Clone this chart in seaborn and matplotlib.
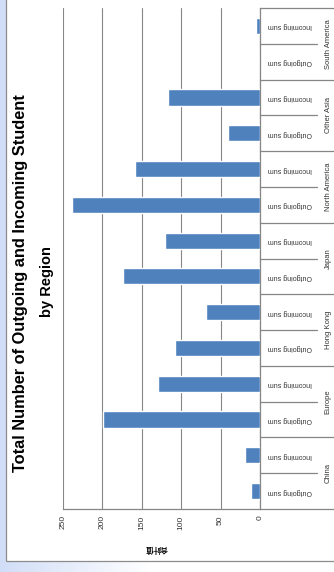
import numpy as np
import pandas as pd
import matplotlib
matplotlib.use("Agg")
import matplotlib.pyplot as plt
import matplotlib.patches as mpatches
import matplotlib.transforms as mtransforms
import seaborn as sns

# Student exchange counts by region
regions = ["China", "Europe", "Hong Kong", "Japan", "North America", "Other Asia", "South America"]
outgoing = [12, 199, 108, 174, 238, 40, 0]
incoming = [19, 130, 68, 120, 158, 117, 5]
series_labels = ["Outgoing sum", "Incoming sum"]
value_ticks = [0, 50, 100, 150, 200, 250]
title_lines = ["Total Number of Outgoing and Incoming Student", "by Region"]
value_axis_title = "合計值"

rows = []
for r, o, i in zip(regions, outgoing, incoming):
    rows.append({"key": f"{r}|{series_labels[0]}", "region": r, "series": series_labels[0], "value": o})
    rows.append({"key": f"{r}|{series_labels[1]}", "region": r, "series": series_labels[1], "value": i})
df = pd.DataFrame(rows)
# first category sits at the top, so list them from the last region down
order = list(df["key"])[::-1]
lookup = df.set_index("key")

sns.set_style("white")
plt.rcParams["font.family"] = ["Liberation Sans", "Noto Sans CJK TC", "DejaVu Sans"]

W, H = 334, 572
fig = plt.figure(figsize=(W / 100, H / 100), dpi=100)

# backdrop with a soft blue wash and the white chart card
bg = fig.add_axes([0, 0, 1, 1], zorder=-5)
grad = np.linspace(0, 1, 400)
fade = np.clip(grad / 0.45, 0, 1)
img = np.zeros((2, 400, 3))
for c, base in enumerate((0.82, 0.87, 0.97)):
    img[:, :, c] = base + (1 - base) * fade
bg.imshow(img, extent=[0, 1, 0, 1], aspect="auto", origin="lower")
bg.add_patch(mpatches.Rectangle((6 / W, 11 / H), 2, 2, facecolor="white",
                                edgecolor="#8c8c8c", linewidth=0.9))
bg.set_xlim(0, 1)
bg.set_ylim(0, 1)
bg.axis("off")

ax = fig.add_axes([63 / W, 63 / H, 197 / W, 501 / H])
ax.set_facecolor("none")
sns.barplot(data=df, y="key", x="value", order=order, orient="h",
            color="#4F81BD", saturation=1, width=0.45, ax=ax, zorder=3)
ax.set_xlim(250, 0)
ax.set_ylim(len(order) - 0.5, -0.5)
ax.set_xticks(value_ticks)
ax.set_xticklabels([str(v) for v in value_ticks], rotation=90, fontsize=6, color="#333333")
ax.tick_params(axis="x", direction="out", length=3, width=0.7, color="#868686", pad=1.5)
ax.set_yticks([])
ax.set_xlabel("")
ax.set_ylabel("")
ax.grid(axis="x", color="#868686", linewidth=0.8, zorder=0)
ax.grid(axis="y", visible=False)
for side in ("top", "left"):
    ax.spines[side].set_visible(False)
for side in ("bottom", "right"):
    ax.spines[side].set_color("#868686")
    ax.spines[side].set_linewidth(0.9)

# category labels and group separators to the right of the plot
trans = mtransforms.blended_transform_factory(ax.transAxes, ax.transData)
x_short = (317 - 63) / 197
x_long = (340 - 63) / 197
for idx, key in enumerate(order):
    row = lookup.loc[key]
    ax.text((290 - 63) / 197, idx, row["series"], transform=trans, rotation=180,
            ha="center", va="center", fontsize=5, color="#333333", clip_on=False)
ax.plot([1, x_long], [-0.5, -0.5], transform=trans, color="#868686", lw=0.9, clip_on=False)
for idx in range(len(order)):
    boundary = idx + 0.5
    last = idx == len(order) - 1
    same = (not last) and lookup.loc[order[idx], "region"] == lookup.loc[order[idx + 1], "region"]
    x_end = x_short if same else x_long
    ax.plot([1, x_end], [boundary, boundary], transform=trans, color="#868686",
            lw=0.9, clip_on=False)
for r in regions:
    pos = [i for i, k in enumerate(order) if lookup.loc[k, "region"] == r]
    ax.text((328 - 63) / 197, np.mean(pos), r, transform=trans, rotation=90,
            ha="center", va="center", fontsize=5.5, color="#333333", clip_on=False)

# value axis title
fig.text(156 / W, 1 - 549 / H, value_axis_title, rotation=180, ha="center", va="center",
         fontsize=5.5, fontweight="bold", color="black",
         family=["Noto Sans CJK TC", "DejaVu Sans"])

# chart title, two rotated lines
fig.text(21 / W, 1 - 283 / H, title_lines[0], rotation=90, ha="center", va="center",
         fontsize=11.8, fontweight="bold", color="black")
fig.text(47 / W, 1 - 282 / H, title_lines[1], rotation=90, ha="center", va="center",
         fontsize=10.5, fontweight="bold", color="black")

fig.savefig("out.png", dpi=100)
